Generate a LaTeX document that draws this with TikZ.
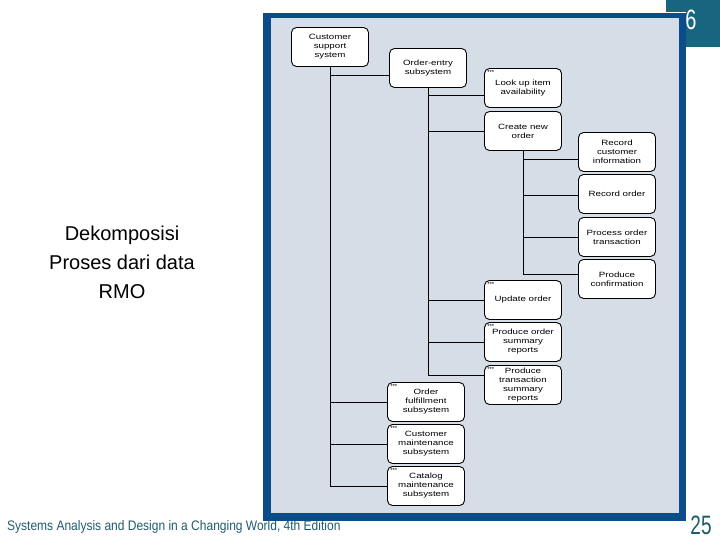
\documentclass[tikz,border=0pt]{standalone}
\usepackage{fontspec}
\usepackage{graphicx}
\setmainfont{Liberation Sans}
\newfontfamily\boxfont[FakeStretch=1.28]{Liberation Sans}
\definecolor{frameblue}{HTML}{0C4C8A}
\definecolor{lightbg}{HTML}{D5DDE6}
\definecolor{tealbox}{HTML}{18657F}
\definecolor{footteal}{HTML}{1F5A6C}
\begin{document}
\begin{tikzpicture}[x=1pt,y=-1pt,
  box/.style={draw=black, line width=0.9pt, rounded corners=5pt, fill=white,
    minimum width=77pt, minimum height=39pt, align=center, inner sep=1pt,
    font=\boxfont\fontsize{7.6}{9}\selectfont},
  dotlbl/.style={anchor=north west, inner sep=0pt, font=\fontsize{6}{6}\selectfont},
  conn/.style={draw=black, line width=0.8pt}]
\useasboundingbox (0,0) rectangle (720,540);
% teal corner box and frame
\fill[tealbox] (666,0) rectangle (720,47);
\fill[frameblue] (263,13) rectangle (686,521);
\fill[lightbg] (271,18) rectangle (679,513);
\draw[white, line width=1pt] (263,12.5) -- (686,12.5);
\node[text=white, font=\fontsize{20}{20}\selectfont] (six) at (691,20) {\scalebox{1}[1.4]{6}};
% left title
\node[align=center, font=\fontsize{20}{29}\selectfont] (title) at (122,262) {Dekomposisi\\Proses dari data\\RMO};
% footer
\node[anchor=west, text=footteal, font=\fontsize{12}{12}\selectfont, inner sep=0pt] (foot) at (7,526.5)
  {\scalebox{1}[1.15]{Systems Analysis and Design in a Changing World, 4th Edition}};
\node[text=footteal, font=\fontsize{19}{19}\selectfont, inner sep=0pt] (page) at (701,525) {\scalebox{1}[1.4]{25}};
% boxes
\node[box] (css) at (330,47) {Customer\\support\\system};
\node[box] (oes) at (428,68) {Order-entry\\subsystem};
\node[box] (lia) at (523,88) {Look up item\\availability};
\node[box] (cno) at (523,131) {Create new\\order};
\node[box] (rci) at (617,152) {Record\\customer\\information};
\node[box] (ro) at (617,194) {Record order};
\node[box] (pot) at (617,237) {Process order\\transaction};
\node[box] (pc) at (617,279) {Produce\\confirmation};
\node[box] (uo) at (523,300) {Update order};
\node[box] (pos) at (523,342) {Produce order\\summary\\reports};
\node[box] (pts) at (523,385) {Produce\\transaction\\summary\\reports};
\node[box] (ofs) at (426,402) {Order\\fulfillment\\subsystem};
\node[box] (cms) at (426,444) {Customer\\maintenance\\subsystem};
\node[box] (cat) at (426,486) {Catalog\\maintenance\\subsystem};
% "***" marks
\foreach \b in {lia,uo,pos,pts,ofs,cms,cat}
  \node[dotlbl] (\b-dots) at ([xshift=3pt,yshift=-2pt]\b.north west) {***};
% connectors from customer support system
\draw[conn] ([yshift=-7pt]oes.west) -| (css.south);
\draw[conn] (ofs.west) -| (css.south);
\draw[conn] (cms.west) -| (css.south);
\draw[conn] (cat.west) -| (css.south);
% connectors from order-entry subsystem
\draw[conn] ([yshift=-7pt]lia.west) -| (oes.south);
\draw[conn] (cno.west) -| (oes.south);
\draw[conn] (uo.west) -| (oes.south);
\draw[conn] (pos.west) -| (oes.south);
\draw[conn] ([yshift=10pt]pts.west) -| (oes.south);
% connectors from create new order
\draw[conn] ([yshift=-7pt]rci.west) -| (cno.south);
\draw[conn] ([yshift=-1pt]ro.west) -| (cno.south);
\draw[conn] (pot.west) -| (cno.south);
\draw[conn] ([yshift=5pt]pc.west) -| (cno.south);
\end{tikzpicture}
\end{document}
